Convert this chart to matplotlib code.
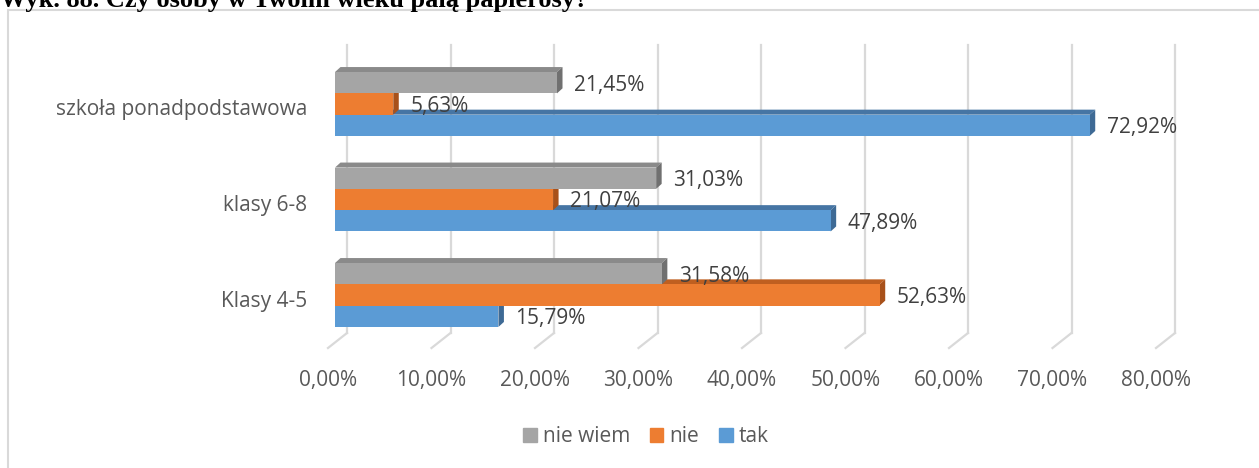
import matplotlib.pyplot as plt
from matplotlib.patches import Polygon, Rectangle

# Data
categories = ['Klasy 4-5', 'klasy 6-8', 'szkoła ponadpodstawowa']
tak = [15.79, 47.89, 72.92]
nie = [52.63, 21.07, 5.63]
nie_wiem = [31.58, 31.03, 21.45]
series_names = ['nie wiem', 'nie', 'tak']
ticks = [0, 10, 20, 30, 40, 50, 60, 70, 80]

# colours: front, top, side
colors = {
    'tak': ('#5B9BD5', '#4675A4', '#3E6A95'),
    'nie': ('#ED7D31', '#BF5F20', '#A8511A'),
    'nie wiem': ('#A5A5A5', '#8A8A8A', '#707070'),
}

W, H = 1259, 468
fig = plt.figure(figsize=(W / 100, H / 100), dpi=100)
plt.rcParams['font.family'] = ['Open Sans', 'DejaVu Sans']

# chart frame
fig.patches.append(Rectangle((8 / W, -0.1), 1.1, 1.1 - 10.5 / H, transform=fig.transFigure,
                             fill=False, edgecolor='#D9D9D9', lw=1.5))

# title (runs off the top edge)
fig.text(0.0, 1 - 7.5 / H, 'Wyk. 88. Czy osoby w Twoim wieku palą papierosy?',
         family='Liberation Serif', fontweight='bold', fontsize=19, ha='left', va='baseline')

ax = fig.add_axes([335 / W, 1 - 342.75 / H, 828 / W, 286.5 / H])
ax.set_xlim(0, 80)
ax.set_ylim(-0.5, 2.5)
ax.axis('off')

px_x = 828 / 80   # pixels per percent
px_y = 95.5       # pixels per category

# back wall / floor geometry (pixel offsets turned into data units)
back_dx = 12 / px_x
floor_dx = -7 / px_x
wall_top = 2.618
wall_bottom = -0.398
floor_front = -0.555

for v in ticks:
    ax.plot([v + back_dx, v + back_dx], [wall_bottom, wall_top], color='#D9D9D9',
            lw=1.6, clip_on=False, zorder=0)
    ax.plot([v + back_dx, v + floor_dx], [wall_bottom, floor_front], color='#D9D9D9',
            lw=1.6, clip_on=False, zorder=0)
    ax.text(v + floor_dx, -0.9, f'{v:.2f}%'.replace('.', ','), ha='center', va='center',
            fontsize=15, color='#595959')

# 3D bars
bh = 21.3 / px_y
ddx = 5.5 / px_x
ddy = 5 / px_y
offsets = {'nie wiem': bh, 'nie': 0.0, 'tak': -bh}
data = {'tak': tak, 'nie': nie, 'nie wiem': nie_wiem}

z = 2
for name in ['tak', 'nie', 'nie wiem']:
    front, top, side = colors[name]
    for i, v in enumerate(data[name]):
        yc = i + offsets[name]
        y0, y1 = yc - bh / 2, yc + bh / 2
        ax.add_patch(Polygon([(0, y1), (ddx, y1 + ddy), (v + ddx, y1 + ddy), (v, y1)],
                             closed=True, facecolor=top, edgecolor='none', zorder=z))
        ax.add_patch(Polygon([(v, y0), (v, y1), (v + ddx, y1 + ddy), (v + ddx, y0 + ddy)],
                             closed=True, facecolor=side, edgecolor='none', zorder=z))
        ax.barh(yc, v, height=bh, color=front, zorder=z + 0.5)
    z += 1

# value labels
for name in ['tak', 'nie', 'nie wiem']:
    for i, v in enumerate(data[name]):
        yc = i + offsets[name]
        ax.text(v + 17 / px_x, yc - 2.5 / px_y, f'{v:.2f}%'.replace('.', ','),
                ha='left', va='center', fontsize=15, color='#404040', zorder=10)

# category labels
for i, c in enumerate(categories):
    ax.text(-28 / px_x, i - 6 / px_y, c, ha='right', va='center', fontsize=15,
            color='#595959')

# legend
handles = [Rectangle((0, 0), 1, 1, color=colors[n][0]) for n in series_names]
fig.legend(handles, series_names, loc='center', bbox_to_anchor=(646 / W, 1 - 437 / H),
           ncol=3, frameon=False, fontsize=15, handlelength=0.65, handleheight=0.65,
           handletextpad=0.3, columnspacing=0.95, labelcolor='#595959')

fig.savefig('out.png', dpi=100)
